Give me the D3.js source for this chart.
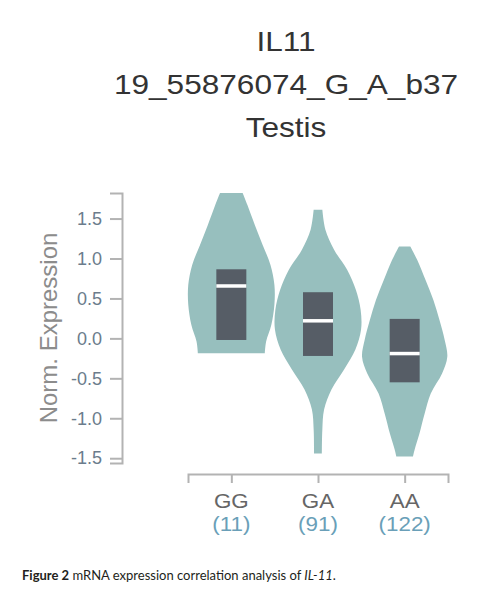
<!DOCTYPE html>
<html><head><meta charset="utf-8">
<script src="https://cdn.jsdelivr.net/npm/d3@7"></script>
<style>html,body{margin:0;padding:0;background:#fff;}svg{display:block;}</style>
</head><body>
<script>
// ---- data ----
const categories = ["GG", "GA", "AA"];
const counts = ["(11)", "(91)", "(122)"];
const titleLines = ["IL11", "19_55876074_G_A_b37", "Testis"];
const yTicks = [-1.5, -1.0, -0.5, 0.0, 0.5, 1.0, 1.5];
// violin profiles: expression value and relative density (width)
const ggValues  = [1.82, 1.67, 1.42, 1.17, 0.92, 0.67, 0.42, 0.17, -0.04, -0.185];
const ggDensity = [0.26, 0.37, 0.54, 0.72, 0.90, 0.99, 0.99, 0.92, 0.80, 0.77];
const gaValues  = [1.61, 1.36, 1.11, 0.86, 0.61, 0.36, 0.11, -0.14, -0.39, -0.64, -0.89, -1.14, -1.44];
const gaDensity = [0.10, 0.17, 0.37, 0.67, 0.87, 0.98, 0.99, 0.86, 0.60, 0.31, 0.14, 0.10, 0.09];
const aaValues  = [1.15, 0.98, 0.73, 0.48, 0.23, -0.02, -0.23, -0.44, -0.69, -0.94, -1.19, -1.39, -1.48];
const aaDensity = [0.13, 0.29, 0.48, 0.66, 0.80, 0.92, 0.98, 0.86, 0.60, 0.46, 0.34, 0.23, 0.19];
// box summaries
const q1s     = [-0.02, -0.22, -0.55];
const medians = [0.656, 0.22, -0.19];
const q3s     = [0.865, 0.578, 0.244];
const caption = {bold: "Figure 2", rest: " mRNA expression correlation analysis of ", ital: "IL-11", end: "."};

const profiles = [
  ggValues.map((v, i) => ({v, d: ggDensity[i]})),
  gaValues.map((v, i) => ({v, d: gaDensity[i]})),
  aaValues.map((v, i) => ({v, d: aaDensity[i]}))
];

const W = 489, H = 612;
const FONT = "Liberation Sans, Arial, sans-serif";
const svg = d3.select("body").append("svg").attr("width", W).attr("height", H);

const y = d3.scaleLinear().domain([-1.56, 1.82]).range([463, 193]);
const x = d3.scalePoint().domain(categories).range([188, 448]).padding(0.5);
const wScale = d3.scaleLinear().domain([0, 1]).range([0, 43.5]);

const violinColor = "#97bfbe", boxColor = "#565d66", axisColor = "#b3b3b3";

// title
const tg = svg.append("g").attr("font-family", FONT)
  .attr("fill", "#333").attr("font-size", 27);
const titleY = [51, 94, 137];
titleLines.forEach((t, i) => {
  tg.append("text").attr("transform", `translate(286,${titleY[i]}) scale(1.17,1)`)
    .attr("text-anchor", "middle").text(t);
});

// violins
const area = d3.area()
  .curve(d3.curveCatmullRom)
  .y(d => y(d.v));
categories.forEach((c, i) => {
  const cx = x(c);
  svg.append("path")
    .datum(profiles[i])
    .attr("d", area.x0(d => cx - wScale(d.d)).x1(d => cx + wScale(d.d)))
    .attr("fill", violinColor);
  // box
  svg.append("rect")
    .attr("x", cx - 15).attr("width", 30)
    .attr("y", y(q3s[i])).attr("height", y(q1s[i]) - y(q3s[i]))
    .attr("fill", boxColor);
  svg.append("line")
    .attr("x1", cx - 15).attr("x2", cx + 15)
    .attr("y1", y(medians[i])).attr("y2", y(medians[i]))
    .attr("stroke", "#fff").attr("stroke-width", 3.5);
});

// y axis
const fmt = d => d.toFixed(1);
const yAxis = svg.append("g").attr("transform", "translate(122,0)")
  .call(d3.axisLeft(y).tickValues(yTicks).tickSize(12).tickSizeOuter(12).tickPadding(8)
    .tickFormat(fmt));
yAxis.selectAll("path,line").attr("stroke", axisColor).attr("stroke-width", 2);
yAxis.selectAll("text").attr("font-family", FONT)
  .attr("font-size", 18).attr("fill", "#6b7c8c");

svg.append("text")
  .attr("transform", "translate(57,328) rotate(-90)")
  .attr("text-anchor", "middle")
  .attr("font-family", FONT)
  .attr("font-size", 24).attr("fill", "#8c8c8c")
  .text("Norm. Expression");

// x axis
const xAxis = svg.append("g").attr("transform", "translate(0,474)")
  .call(d3.axisBottom(x).tickSize(9).tickSizeOuter(9).tickFormat(""));
xAxis.selectAll("path,line").attr("stroke", axisColor).attr("stroke-width", 2);

const xl = svg.append("g").attr("font-family", FONT)
  .attr("text-anchor", "middle").attr("font-size", 20);
categories.forEach((c, i) => {
  xl.append("text").attr("transform", `translate(${x(c)},508) scale(1.12,1)`).attr("fill", "#666").text(c);
  xl.append("text").attr("transform", `translate(${x(c)},531) scale(1.12,1)`).attr("fill", "#6a9fb8").text(counts[i]);
});

// caption
const cap = svg.append("text").attr("x", 22).attr("y", 580)
  .attr("font-family", "Lato, 'Open Sans', sans-serif").attr("font-size", 13).attr("fill", "#231f20");
cap.append("tspan").attr("font-weight", "bold").text(caption.bold);
cap.append("tspan").text(caption.rest);
cap.append("tspan").attr("font-style", "italic").text(caption.ital);
cap.append("tspan").text(caption.end);
</script>
</body></html>
